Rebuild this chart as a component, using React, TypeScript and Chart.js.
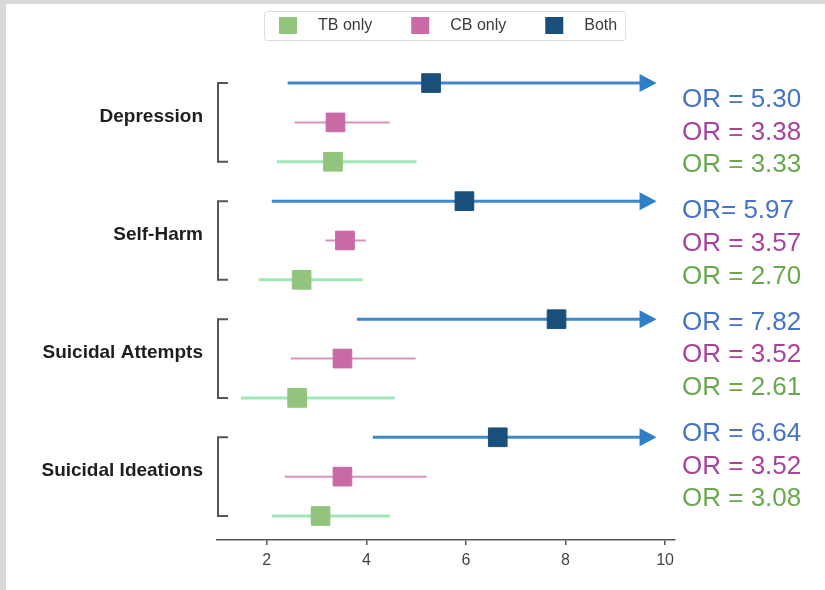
import React, { useEffect, useRef } from 'react';
import { Chart, registerables } from 'chart.js';

Chart.register(...registerables);

const categories = ['Depression', 'Self-Harm', 'Suicidal Attempts', 'Suicidal Ideations'];
const seriesNames = ['TB only', 'CB only', 'Both'];

const tbOR = [3.33, 2.70, 2.61, 3.08];
const tbLow = [2.20, 1.84, 1.48, 2.10];
const tbHigh = [5.01, 3.93, 4.57, 4.47];

const cbOR = [3.38, 3.57, 3.52, 3.52];
const cbLow = [2.56, 3.18, 2.48, 2.36];
const cbHigh = [4.47, 3.99, 4.99, 5.21];

const bothOR = [5.30, 5.97, 7.82, 6.64];
const bothLow = [2.42, 2.10, 3.81, 4.13];
const bothHigh = [9.83, 9.83, 9.83, 9.83]; // truncated upper bound (arrow)

const bothPrefix = ['OR = ', 'OR= ', 'OR = ', 'OR = '];
const xTicks = [2, 4, 6, 8, 10];

const FONT = '"Liberation Sans", Arial, Helvetica, sans-serif';

const markerColors = ['#93c47d', '#c969a6', '#1b4f7b'];
const lineColors = ['#9fe8b7', '#d993c0', '#3f88cb'];
const lineWidths = [3, 2, 3];
const textColors = ['#6aa84f', '#a6449b', '#4573c9'];
const rowOffset = [2, 1, 0];

const orSeries = [tbOR, cbOR, bothOR];
const lowSeries = [tbLow, cbLow, bothLow];
const highSeries = [tbHigh, cbHigh, bothHigh];

const rowOf = (g: number, s: number) => g * 3 + rowOffset[s];

const pagePlugin = {
  id: 'page',
  beforeDraw(chart: any) {
    const { ctx, width, height } = chart;
    ctx.save();
    ctx.fillStyle = '#ffffff';
    ctx.fillRect(0, 0, width, height);
    ctx.fillStyle = '#d9d9d9';
    ctx.fillRect(0, 0, 6, height);
    ctx.fillRect(0, 0, width, 4);
    ctx.restore();
  },
};

const errorBarPlugin = {
  id: 'errorBars',
  beforeDatasetsDraw(chart: any) {
    const { ctx } = chart;
    const x = chart.scales.x;
    const y = chart.scales.y;
    ctx.save();
    for (let s = 0; s < 3; s++) {
      for (let g = 0; g < categories.length; g++) {
        const yy = y.getPixelForValue(rowOf(g, s));
        const x0 = x.getPixelForValue(lowSeries[s][g]);
        const x1 = x.getPixelForValue(highSeries[s][g]);
        ctx.strokeStyle = lineColors[s];
        ctx.lineWidth = lineWidths[s];
        ctx.beginPath();
        if (s === 2) {
          const headLen = 17;
          ctx.moveTo(x0, yy);
          ctx.lineTo(x1 - headLen + 2, yy);
          ctx.stroke();
          ctx.fillStyle = '#2f7fc7';
          ctx.beginPath();
          ctx.moveTo(x1, yy);
          ctx.lineTo(x1 - headLen, yy - 9);
          ctx.lineTo(x1 - headLen, yy + 9);
          ctx.closePath();
          ctx.fill();
        } else {
          ctx.moveTo(x0, yy);
          ctx.lineTo(x1, yy);
          ctx.stroke();
        }
      }
    }
    ctx.restore();
  },
};

const decorPlugin = {
  id: 'decor',
  afterDraw(chart: any) {
    const { ctx } = chart;
    const x = chart.scales.x;
    const y = chart.scales.y;
    ctx.save();
    // brackets
    ctx.strokeStyle = '#555555';
    ctx.lineWidth = 2;
    const bx = chart.chartArea.left + 1;
    for (let g = 0; g < categories.length; g++) {
      const top = y.getPixelForValue(g * 3);
      const bot = y.getPixelForValue(g * 3 + 2);
      ctx.beginPath();
      ctx.moveTo(bx + 10, top);
      ctx.lineTo(bx, top);
      ctx.lineTo(bx, bot);
      ctx.lineTo(bx + 10, bot);
      ctx.stroke();
    }
    // OR annotations
    ctx.font = `26px ${FONT}`;
    ctx.textAlign = 'left';
    ctx.textBaseline = 'middle';
    const tx = x.right + 7;
    const midAll = (y.getPixelForValue(1) + y.getPixelForValue(categories.length * 3 - 2)) / 2;
    for (let g = 0; g < categories.length; g++) {
      const mid = y.getPixelForValue(g * 3 + 1);
      const c = midAll + (mid - midAll) * 0.943;
      const order = [2, 1, 0];
      order.forEach((s, k) => {
        const v = orSeries[s][g].toFixed(2);
        const txt = s === 2 ? bothPrefix[g] + v : 'OR = ' + v;
        ctx.fillStyle = textColors[s];
        ctx.fillText(txt, tx, c + (k - 1) * 32.7);
      });
    }
    // legend
    ctx.font = `16px ${FONT}`;
    ctx.textBaseline = 'middle';
    let lx = 279;
    const ly = 26;
    const startX = lx;
    seriesNames.forEach((n, i) => {
      ctx.fillStyle = markerColors[i];
      ctx.fillRect(lx, ly - 9, 18, 17);
      ctx.fillStyle = '#3a3a3a';
      ctx.fillText(n, lx + 39, ly);
      lx += 39 + ctx.measureText(n).width + 39;
    });
    const endX = lx - 39 + 8;
    ctx.strokeStyle = '#dcdcdc';
    ctx.lineWidth = 1;
    ctx.beginPath();
    const rx = startX - 15 + 0.5, ry = 11.5, rw = endX - (startX - 15), rh = 29, r = 3;
    ctx.moveTo(rx + r, ry);
    ctx.lineTo(rx + rw - r, ry);
    ctx.arcTo(rx + rw, ry, rx + rw, ry + r, r);
    ctx.lineTo(rx + rw, ry + rh - r);
    ctx.arcTo(rx + rw, ry + rh, rx + rw - r, ry + rh, r);
    ctx.lineTo(rx + r, ry + rh);
    ctx.arcTo(rx, ry + rh, rx, ry + rh - r, r);
    ctx.lineTo(rx, ry + r);
    ctx.arcTo(rx, ry, rx + r, ry, r);
    ctx.stroke();
    ctx.restore();
  },
};

export default function App() {
  const ref = useRef<HTMLCanvasElement>(null);
  useEffect(() => {
    if (!ref.current) return;
    const datasets = [0, 1, 2].map((s) => ({
      label: seriesNames[s],
      data: orSeries[s].map((v, g) => ({ x: v, y: rowOf(g, s) })),
      pointStyle: 'rect',
      pointRadius: 13.2,
      pointHoverRadius: 13.2,
      backgroundColor: markerColors[s],
      borderColor: markerColors[s],
      borderWidth: 1,
      showLine: false,
    }));
    const chart = new Chart(ref.current, {
      type: 'scatter',
      data: { datasets } as any,
      options: {
        animation: false,
        responsive: false,
        devicePixelRatio: 1,
        layout: { padding: { left: 0, right: 150, top: 50, bottom: 0 } },
        plugins: { legend: { display: false }, tooltip: { enabled: false } },
        scales: {
          x: {
            type: 'linear',
            position: 'bottom',
            min: 1,
            max: 10.2,
            afterBuildTicks: (scale: any) => {
              scale.ticks = xTicks.map((v) => ({ value: v }));
            },
            afterFit: (scale: any) => {
              scale.height = 50;
            },
            grid: { drawOnChartArea: false, drawTicks: true, tickLength: 5, color: '#555555', lineWidth: 1.5 },
            border: { display: true, color: '#555555', width: 1.5 },
            ticks: { color: '#444444', font: { family: FONT, size: 16 }, padding: 6 },
          },
          y: {
            type: 'linear',
            reverse: true,
            min: -0.84,
            max: 11.61,
            afterBuildTicks: (scale: any) => {
              scale.ticks = categories.map((_, g) => ({ value: g * 3 + 1 }));
            },
            afterFit: (scale: any) => {
              scale.width = 217;
            },
            grid: { display: false, drawTicks: false },
            border: { display: false },
            ticks: {
              color: '#1e1e1e',
              font: { family: FONT, size: 19, weight: 'bold' },
              padding: 14,
              labelOffset: -6,
              callback: (_v: any, i: number) => categories[i],
            },
          },
        },
      },
      plugins: [pagePlugin, errorBarPlugin, decorPlugin],
    } as any);
    return () => chart.destroy();
  }, []);
  return (
    <div style={{ position: 'fixed', left: 0, top: 0, width: 825, height: 590 }}>
      <canvas ref={ref} width={825} height={590} style={{ display: 'block' }} />
    </div>
  );
}
